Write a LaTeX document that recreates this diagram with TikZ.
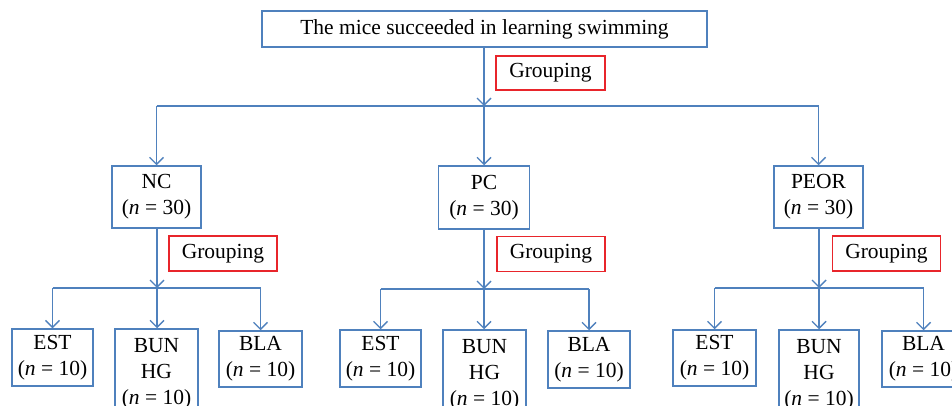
\documentclass[tikz,border=0pt]{standalone}
\usepackage{fontspec}
\setmainfont{Liberation Serif}
\usetikzlibrary{arrows.meta}
\definecolor{boxblue}{HTML}{4F81BD}
\definecolor{boxred}{HTML}{E8252B}
\tikzset{
  bluebox/.style={draw=boxblue, line width=1.5pt, fill=white, inner sep=0pt, align=center,
    font=\fontsize{21.5}{26}\selectfont},
  redbox/.style={draw=boxred, line width=1.5pt, fill=white, inner sep=0pt, align=center,
    minimum width=108pt, minimum height=35pt, font=\fontsize{21.5}{26}\selectfont},
  conn/.style={draw=boxblue, line width=1.5pt},
  arr/.style={conn, -{Straight Barb[length=7pt,width=14pt,line width=1.4pt]}},
}
\newcommand{\nn}[1]{(\textit{n} = #1)}
\begin{document}
\begin{tikzpicture}[x=1pt,y=-1pt]
\useasboundingbox (0,0) rectangle (952,406);
\clip (0,0) rectangle (952,406);
\fill[white] (0,0) rectangle (952,406);

% top
\node[bluebox, minimum width=445pt, minimum height=36pt] (top) at (484.5,29) {The mice succeeded in learning swimming};
\node[redbox, minimum width=109pt, minimum height=34pt] (g0) at (550.5,73) {Grouping};

% level 2
\node[bluebox, minimum width=89pt, minimum height=62pt] (nc) at (156.5,197) {NC\\\nn{30}};
\node[bluebox, minimum width=91pt, minimum height=63pt] (pc) at (484,197.5) {PC\\\nn{30}};
\node[bluebox, minimum width=89pt, minimum height=62pt] (peor) at (818.5,197) {PEOR\\\nn{30}};

\node[redbox] (g1) at (223,253.5) {Grouping};
\node[redbox] (g2) at (551,254) {Grouping};
\node[redbox] (g3) at (886.5,253.5) {Grouping};

% level 3 NC
\node[bluebox, minimum width=81pt, minimum height=57pt] (e1) at (52.5,357.5) {EST\\\nn{10}};
\node[bluebox, minimum width=83pt, minimum height=90pt] (b1) at (156.5,374) {BUN\\HG\\\nn{10}};
\node[bluebox, minimum width=83pt, minimum height=56pt] (l1) at (260.5,359) {BLA\\\nn{10}};
% level 3 PC
\node[bluebox, minimum width=81pt, minimum height=57pt] (e2) at (380.5,358.5) {EST\\\nn{10}};
\node[bluebox, minimum width=83pt, minimum height=90pt] (b2) at (484.5,375) {BUN\\HG\\\nn{10}};
\node[bluebox, minimum width=82pt, minimum height=57pt] (l2) at (589,359.5) {BLA\\\nn{10}};
% level 3 PEOR
\node[bluebox, minimum width=83pt, minimum height=56pt] (e3) at (714.5,358) {EST\\\nn{10}};
\node[bluebox, minimum width=80pt, minimum height=90pt] (b3) at (819,375) {BUN\\HG\\\nn{10}};
\node[bluebox, minimum width=83pt, minimum height=56pt] (l3) at (923.5,359) {BLA\\\nn{10}};

% connectors top
\coordinate (j0) at (484,106);
\draw[arr] (top.south -| j0) -- (j0);
\draw[conn] (j0 -| nc) -- (j0 -| peor);
\draw[arr] (j0 -| nc) -- (nc.north);
\draw[arr] (j0) -- (pc.north -| j0);
\draw[arr] (j0 -| peor) -- (peor.north);

% NC
\coordinate (j1) at (157,288);
\draw[arr] (nc.south -| j1) -- (j1);
\draw[conn] (j1 -| e1) -- (j1 -| l1);
\draw[arr] (j1 -| e1) -- (e1.north);
\draw[arr] (j1) -- (b1.north -| j1);
\draw[arr] (j1 -| l1) -- (l1.north);

% PC
\coordinate (j2) at (484,289);
\draw[arr] (pc.south -| j2) -- (j2);
\draw[conn] (j2 -| e2) -- (j2 -| l2);
\draw[arr] (j2 -| e2) -- (e2.north);
\draw[arr] (j2) -- (b2.north -| j2);
\draw[arr] (j2 -| l2) -- (l2.north);

% PEOR
\coordinate (j3) at (819,288);
\draw[arr] (peor.south -| j3) -- (j3);
\draw[conn] (j3 -| e3) -- (j3 -| l3);
\draw[arr] (j3 -| e3) -- (e3.north);
\draw[arr] (j3) -- (b3.north -| j3);
\draw[arr] (j3 -| l3) -- (l3.north);
\end{tikzpicture}
\end{document}
